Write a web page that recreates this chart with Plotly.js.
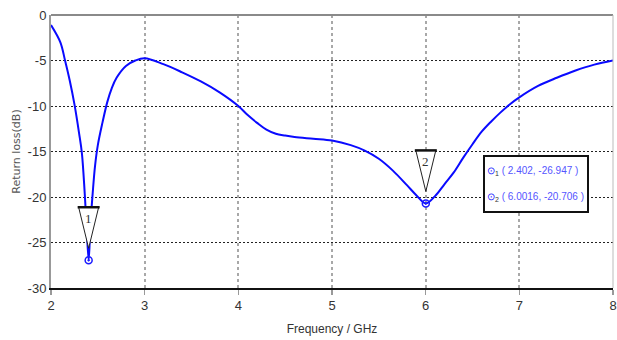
<!DOCTYPE html>
<html><head><meta charset="utf-8">
<script src="https://cdn.plot.ly/plotly-3.0.1.min.js"></script>
<style>html,body{margin:0;padding:0;background:#fff}#chart{width:617px;height:340px}</style>
</head><body><div id="chart"></div>
<script>
const freq = [2.0,2.1,2.15,2.2,2.25,2.3,2.33,2.36,2.38,2.402,2.42,2.445,2.47,2.5,2.55,2.6,2.65,2.7,2.8,2.9,3.0,3.2,3.4,3.6,3.8,4.0,4.1,4.2,4.3,4.4,4.5,4.6,4.8,5.0,5.2,5.35,5.5,5.65,5.8,5.9,6.0016,6.1,6.2,6.3,6.4,6.5,6.6,6.7,6.8,6.9,7.0,7.2,7.4,7.6,7.8,8.0];
const rl = [-1.1,-3.0,-5.0,-7.2,-9.8,-13.0,-15.2,-19.6,-23.2,-26.947,-23.2,-19.6,-16.6,-14.3,-11.8,-9.6,-8.0,-6.9,-5.6,-5.0,-4.75,-5.4,-6.3,-7.3,-8.5,-10.0,-11.0,-11.85,-12.6,-13.05,-13.25,-13.4,-13.6,-13.8,-14.3,-14.9,-15.8,-17.1,-18.7,-19.8,-20.706,-19.9,-18.6,-17.3,-15.7,-14.2,-12.8,-11.7,-10.7,-9.8,-9.05,-7.8,-6.9,-6.1,-5.45,-5.0];
const markerX = [2.402, 6.0016];
const markerY = [-26.947, -20.706];
const markerLabels = ['1','2'];
const xTicks = [2,3,4,5,6,7,8];
const yTicks = [0,-5,-10,-15,-20,-25,-30];

const FONT = 'Liberation Sans Narrow, Liberation Sans, sans-serif';

const traces = [
  {x: freq, y: rl, mode: 'lines', line: {color: '#0a0aff', width: 2, shape: 'spline', smoothing: 1.0}, hoverinfo: 'skip'},
  {x: markerX, y: markerY, mode: 'markers', marker: {symbol: 'circle-open-dot', size: 7, color: '#1a1aff', line: {width: 1.5, color: '#1a1aff'}}, hoverinfo: 'skip'}
];

const shapes = [];
markerX.forEach((mx, i) => {
  shapes.push({type: 'path', xref: 'x', yref: 'y', xsizemode: 'pixel', ysizemode: 'pixel',
    xanchor: mx, yanchor: markerY[i], path: 'M0,12 L-10,53 L10,53 Z',
    fillcolor: 'white', line: {color: '#222', width: 1}, layer: 'above'});
  shapes.push({type: 'path', xref: 'x', yref: 'y', xsizemode: 'pixel', ysizemode: 'pixel',
    xanchor: mx, yanchor: markerY[i], path: 'M-11,53 L11,53',
    line: {color: '#111', width: 2.5}, layer: 'above'});
});
shapes.push({type: 'line', xref: 'paper', yref: 'paper', x0: 0, x1: 1, y0: 1, y1: 1, line: {color: '#8a8a8a', width: 2}});
shapes.push({type: 'line', xref: 'paper', yref: 'paper', x0: 1, x1: 1, y0: 0, y1: 1, line: {color: '#bbbbbb', width: 1}});

const annotations = markerX.map((mx, i) => ({
  x: mx, y: markerY[i], xref: 'x', yref: 'y', text: markerLabels[i], showarrow: false,
  yshift: 42, font: {family: 'Liberation Serif, serif', size: 13, color: '#333'}
}));
const boxLines = markerX.map((mx, i) =>
  '<span style="color:#1a1aff">⊙</span><sub><span style="color:#333">' + markerLabels[i] + '</span></sub> ( ' + mx + ', ' + markerY[i] + ' )');
annotations.push({
  xref: 'paper', yref: 'paper', x: 0.769, y: 0.487, xanchor: 'left', yanchor: 'top',
  text: boxLines.join('<br><br>'), showarrow: false, align: 'left', valign: 'middle',
  width: 98, height: 50,
  font: {family: FONT, size: 10, color: '#5555ff'},
  bgcolor: 'white', bordercolor: '#111', borderwidth: 2, borderpad: 2
});

const layout = {
  width: 617, height: 340,
  margin: {l: 51, r: 4, t: 15, b: 52},
  paper_bgcolor: 'white', plot_bgcolor: 'white',
  showlegend: false,
  font: {family: FONT, color: '#333'},
  xaxis: {range: [2, 8], tickvals: xTicks, ticktext: xTicks.map(String), showgrid: true,
    gridcolor: '#a8a8a8', gridwidth: 2, griddash: '3px,3px', zeroline: false,
    showline: true, linecolor: '#111', linewidth: 1.5,
    ticks: 'outside', ticklen: 5, tickcolor: '#999', tickwidth: 1.5,
    tickfont: {family: FONT, size: 13, color: '#333'},
    title: {text: 'Frequency / GHz', font: {family: FONT, size: 12, color: '#333'}, standoff: 12}},
  yaxis: {range: [-30, 0], tickvals: yTicks, ticktext: yTicks.map(String), showgrid: true,
    gridcolor: '#222', gridwidth: 1, griddash: '2px,2px', zeroline: false,
    showline: true, linecolor: '#999', linewidth: 2, ticks: '',
    tickfont: {family: FONT, size: 13, color: '#333'},
    title: {text: 'Return loss(dB)', font: {family: 'DejaVu Sans, sans-serif', size: 11, color: '#555'}, standoff: 5}},
  shapes: shapes,
  annotations: annotations
};

Plotly.newPlot('chart', traces, layout, {staticPlot: true});
</script></body></html>
